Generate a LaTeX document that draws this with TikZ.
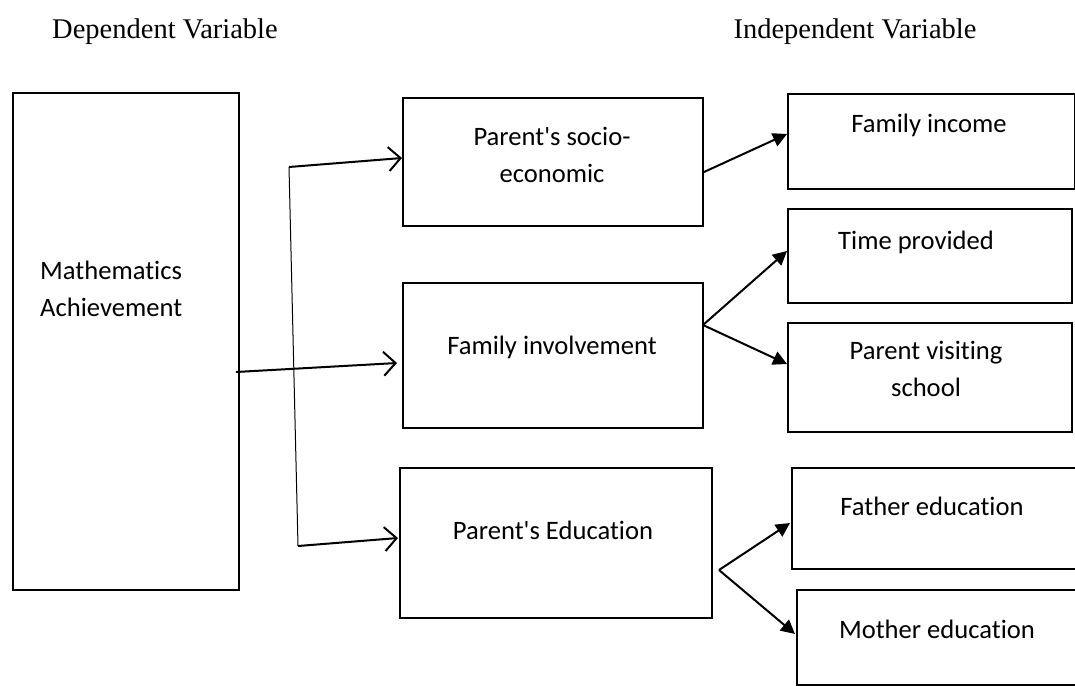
\documentclass[tikz,border=0pt]{standalone}
\usepackage{fontspec}
\setmainfont{Liberation Serif}
\newfontfamily\boxfont[Ligatures=CommonOff]{Carlito}
\usetikzlibrary{arrows.meta}
\begin{document}
\begin{tikzpicture}[x=1pt,y=-1pt,
  box/.style={draw,line width=2pt,minimum width=#1,anchor=north west,inner sep=0pt},
  lbl/.style={font=\boxfont\fontsize{26.6}{37}\selectfont,align=center,inner sep=0pt},
  hdr/.style={font=\fontsize{28.5}{32}\selectfont,inner sep=0pt},
  openarr/.style={line width=2pt,-{Straight Barb[length=12pt,width=24pt]}},
  filarr/.style={line width=2pt,-{Triangle[length=14pt,width=14pt]}},
  thin/.style={line width=1pt}]
\useasboundingbox (0,0) rectangle (1075,685);
\clip (0,0) rectangle (1075,685);
% headers
\node[hdr] (hdep) at (165,32) {Dependent Variable};
\node[hdr] (hind) at (855,32) {Independent Variable};
% boxes
\node[box=226pt,minimum height=497pt] (math) at (12,92) {};
\node[box=300pt,minimum height=128pt] (socio) at (402,97) {};
\node[box=300pt,minimum height=145pt] (inv) at (402,282) {};
\node[box=312pt,minimum height=150pt] (edu) at (399,467) {};
\node[box=287pt,minimum height=95pt] (income) at (787,93) {};
\node[box=284pt,minimum height=94pt] (time) at (787,208) {};
\node[box=284pt,minimum height=109pt] (visit) at (787,322) {};
\node[box=300pt,minimum height=101pt] (father) at (791,467) {};
\node[box=300pt,minimum height=95pt] (mother) at (796,589) {};
% texts
\node[lbl,align=left,anchor=west] (tmath) at (40,289) {Mathematics\\Achievement};
\node[lbl] (tsocio) at (552,155) {Parent's socio-\\economic};
\node[lbl] (tinv) at (552,347) {Family involvement};
\node[lbl] (tedu) at (553,530) {Parent's Education};
\node[lbl] (tinc) at (929,125) {Family income};
\node[lbl] (ttime) at (916,242) {Time provided};
\node[lbl] (tvisit) at (926,369) {Parent visiting\\school};
\node[lbl] (tfather) at (932,506) {Father education};
\node[lbl] (tmother) at (937,629) {Mother education};
% connectors
\coordinate (v1) at (289,167);
\coordinate (v2) at (298,546);
\draw[thin] (v1) -- (v2);
\draw[openarr] (v1) -- ([yshift=4pt]socio.west);
\draw[openarr] ([xshift=-4pt,yshift=-30.5pt]math.east) -- ([xshift=-5pt,yshift=-7.5pt]inv.west);
\draw[openarr] (v2) -- ([xshift=-1pt,yshift=5pt]edu.west);
\draw[filarr] ([yshift=-10pt]socio.east) -- ([yshift=7.5pt]income.west);
\draw[filarr] ([xshift=-1pt,yshift=30.5pt]inv.east) -- ([yshift=5pt]time.west);
\draw[filarr] ([xshift=-1pt,yshift=30.5pt]inv.east) -- ([yshift=13.5pt]visit.west);
\draw[filarr] ([xshift=6pt,yshift=-27pt]edu.east) -- ([xshift=-1pt,yshift=-4.5pt]father.west);
\draw[filarr] ([xshift=6pt,yshift=-27pt]edu.east) -- ([xshift=-1pt,yshift=3.5pt]mother.west);
\end{tikzpicture}
\end{document}
